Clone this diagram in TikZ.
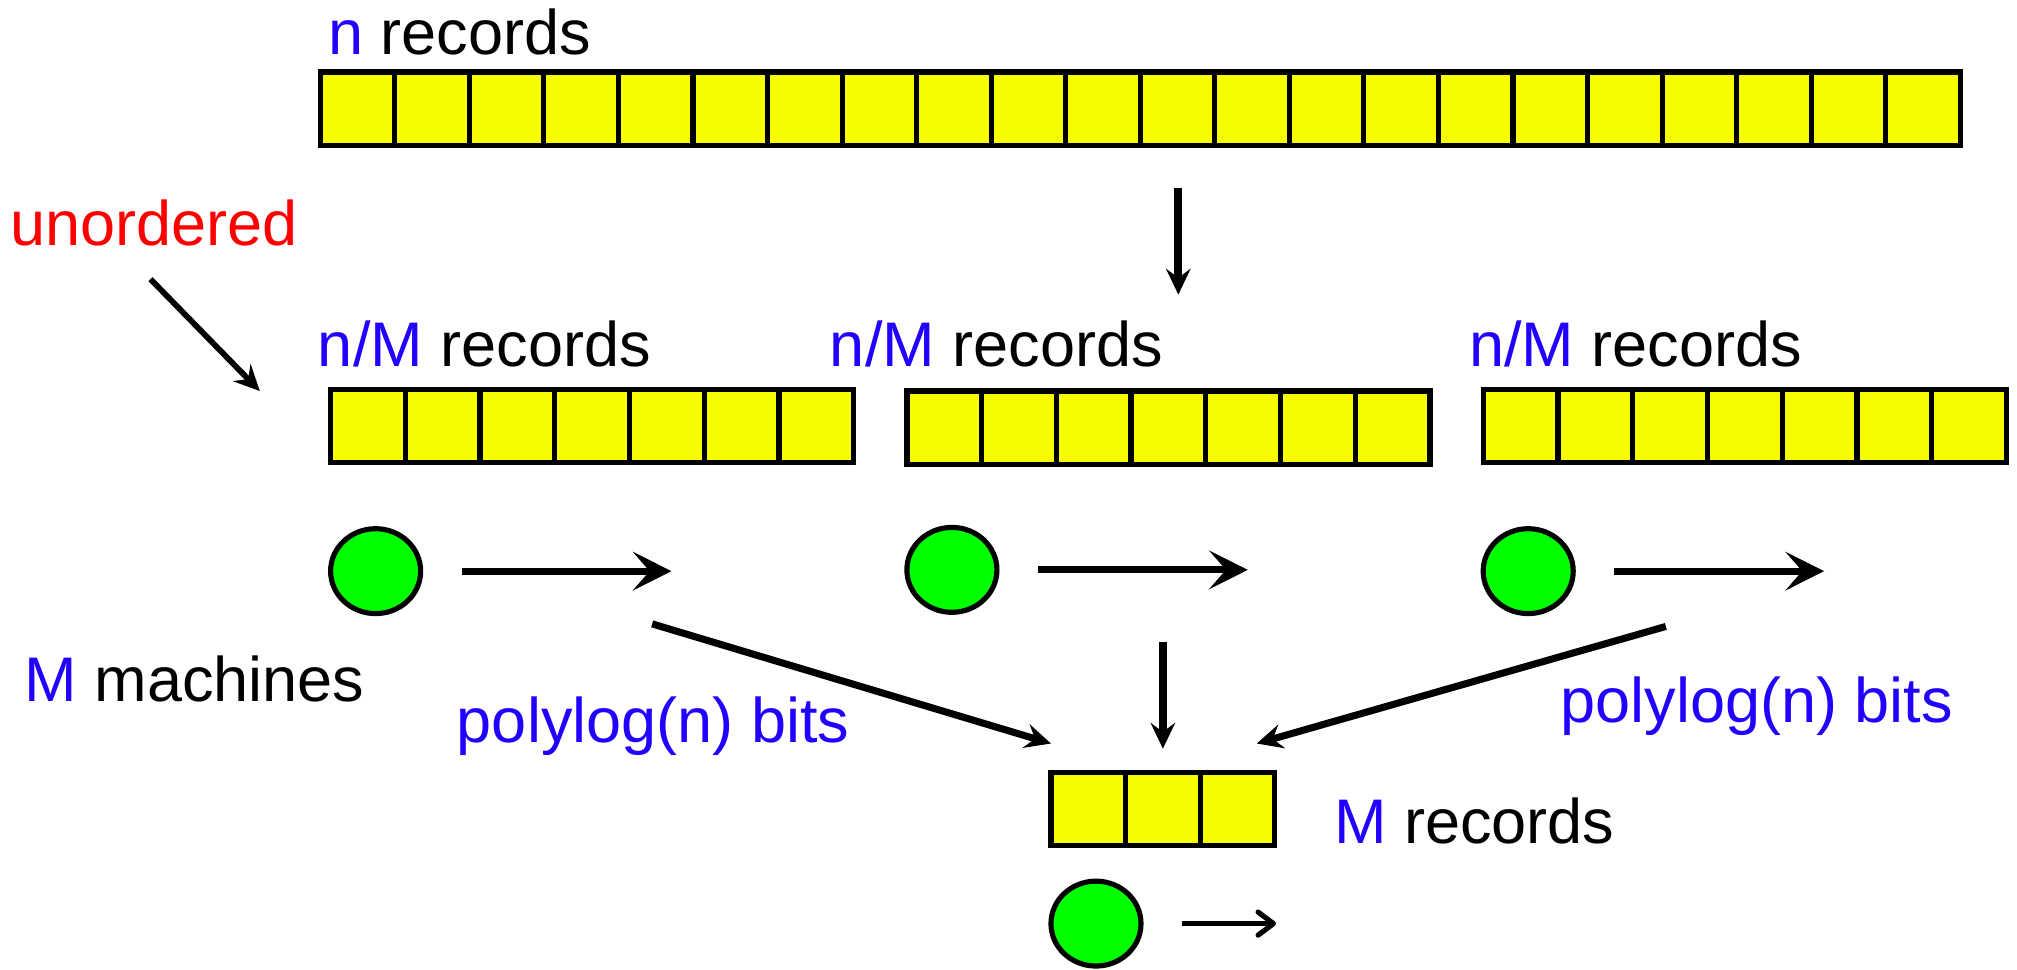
\documentclass[tikz,border=0pt]{standalone}
\usepackage{fontspec}
\setmainfont{Liberation Sans}
\usetikzlibrary{positioning}
\usetikzlibrary{arrows.meta}
\usetikzlibrary{shapes.geometric}
\definecolor{recyellow}{RGB}{248,252,0}
\definecolor{mgreen}{RGB}{0,255,0}
\definecolor{varblue}{RGB}{34,0,255}
\definecolor{warnred}{RGB}{255,0,0}

\begin{document}
\begin{tikzpicture}[x=1pt, y=-1pt,
	cell/.style={draw, fill=recyellow, line width=4pt, minimum width=58pt, minimum height=57pt, inner sep=0pt},
	machine/.style={draw, fill=mgreen, ellipse, line width=4pt, minimum width=70pt, minimum height=66pt, inner sep=0pt},
	lbl/.style={inner sep=0pt, anchor=base west, font=\fontsize{49}{58}\selectfont},
	bigarrow/.style={-{Stealth[length=30pt, width=30pt, inset=13pt]}, line width=5.5pt},
	arrow/.style={-{Stealth[length=20pt, width=19pt, inset=7pt]}, line width=5.5pt},
	tinyarrow/.style={-{Straight Barb[round, length=12pt, width=18pt]}, line width=4pt}
	]
	\useasboundingbox (0,0) rectangle (1568,754);

	% Records
	\foreach \i in {1,...,22}
		\node[cell] (t\i) at ({249+57.95*(\i-0.5)}, 84.5) {};
	\foreach \a/\x/\y in {a/257/331, b/705/332.5, c/1153/331}
		\foreach \i in {1,...,7}
			\node[cell] (\a\i) at ({\x+58.1*(\i-0.5)}, \y) {};
	\foreach \i in {1,2,3}
		\node[cell] (m\i) at ({817+58*(\i-0.5)}, 629) {};

	% Machines
	\node[machine] (p1) at (292,444) {};
	\node[machine] (p2) at (740,443) {};
	\node[machine] (p3) at (1188,444) {};
	\node[machine] (p0) at (852,718) {};

	% Labels
	\node[lbl] (nrec) at (255,42) {\textcolor{varblue}{n} records};
	\node[lbl, text=warnred] (unord) at (8,191) {unordered};
	\node[lbl] (nma) at (247,285) {\textcolor{varblue}{n/M} records};
	\node[lbl] (nmb) at (645,285) {\textcolor{varblue}{n/M} records};
	\node[lbl] (nmc) at (1142,285) {\textcolor{varblue}{n/M} records};
	\node[lbl] (mach) at (19,545) {\textcolor{varblue}{M} machines};
	\node[lbl, text=varblue] (bitsl) at (355,577) {polylog(n) bits};
	\node[lbl, text=varblue] (bitsr) at (1213,562) {polylog(n) bits};
	\node[lbl] (mrec) at (1037,656) {\textcolor{varblue}{M} records};

	% Arrow ends
	\coordinate (split0) at (916,146);
	\coordinate (split1) at (916,229);
	\coordinate (u0) at (117,217);
	\coordinate (u1) at (202,304);
	\coordinate[right=30pt of p1] (s1);
	\coordinate[right=163pt of s1] (e1);
	\coordinate[right=30pt of p2] (s2);
	\coordinate[right=163pt of s2] (e2);
	\coordinate[right=30pt of p3] (s3);
	\coordinate[right=163pt of s3] (e3);
	\coordinate (g1) at (507,485);
	\coordinate (h1) at (817,578);
	\coordinate (g2) at (904,499);
	\coordinate (h2) at (904,582);
	\coordinate (g3) at (1295,487);
	\coordinate (h3) at (977,578);
	\coordinate[right=30pt of p0] (s0);
	\coordinate[right=73pt of s0] (e0);

	% Arrows
	\draw[arrow, line width=6pt] (split0) -- (split1);
	\draw[arrow, line width=4.5pt] (u0) -- (u1);
	\draw[bigarrow] (s1) -- (e1);
	\draw[bigarrow] (s2) -- (e2);
	\draw[bigarrow] (s3) -- (e3);
	\draw[arrow] (g1) -- (h1);
	\draw[arrow, line width=6pt] (g2) -- (h2);
	\draw[arrow] (g3) -- (h3);
	\draw[tinyarrow] (s0) -- (e0);
\end{tikzpicture}
\end{document}
